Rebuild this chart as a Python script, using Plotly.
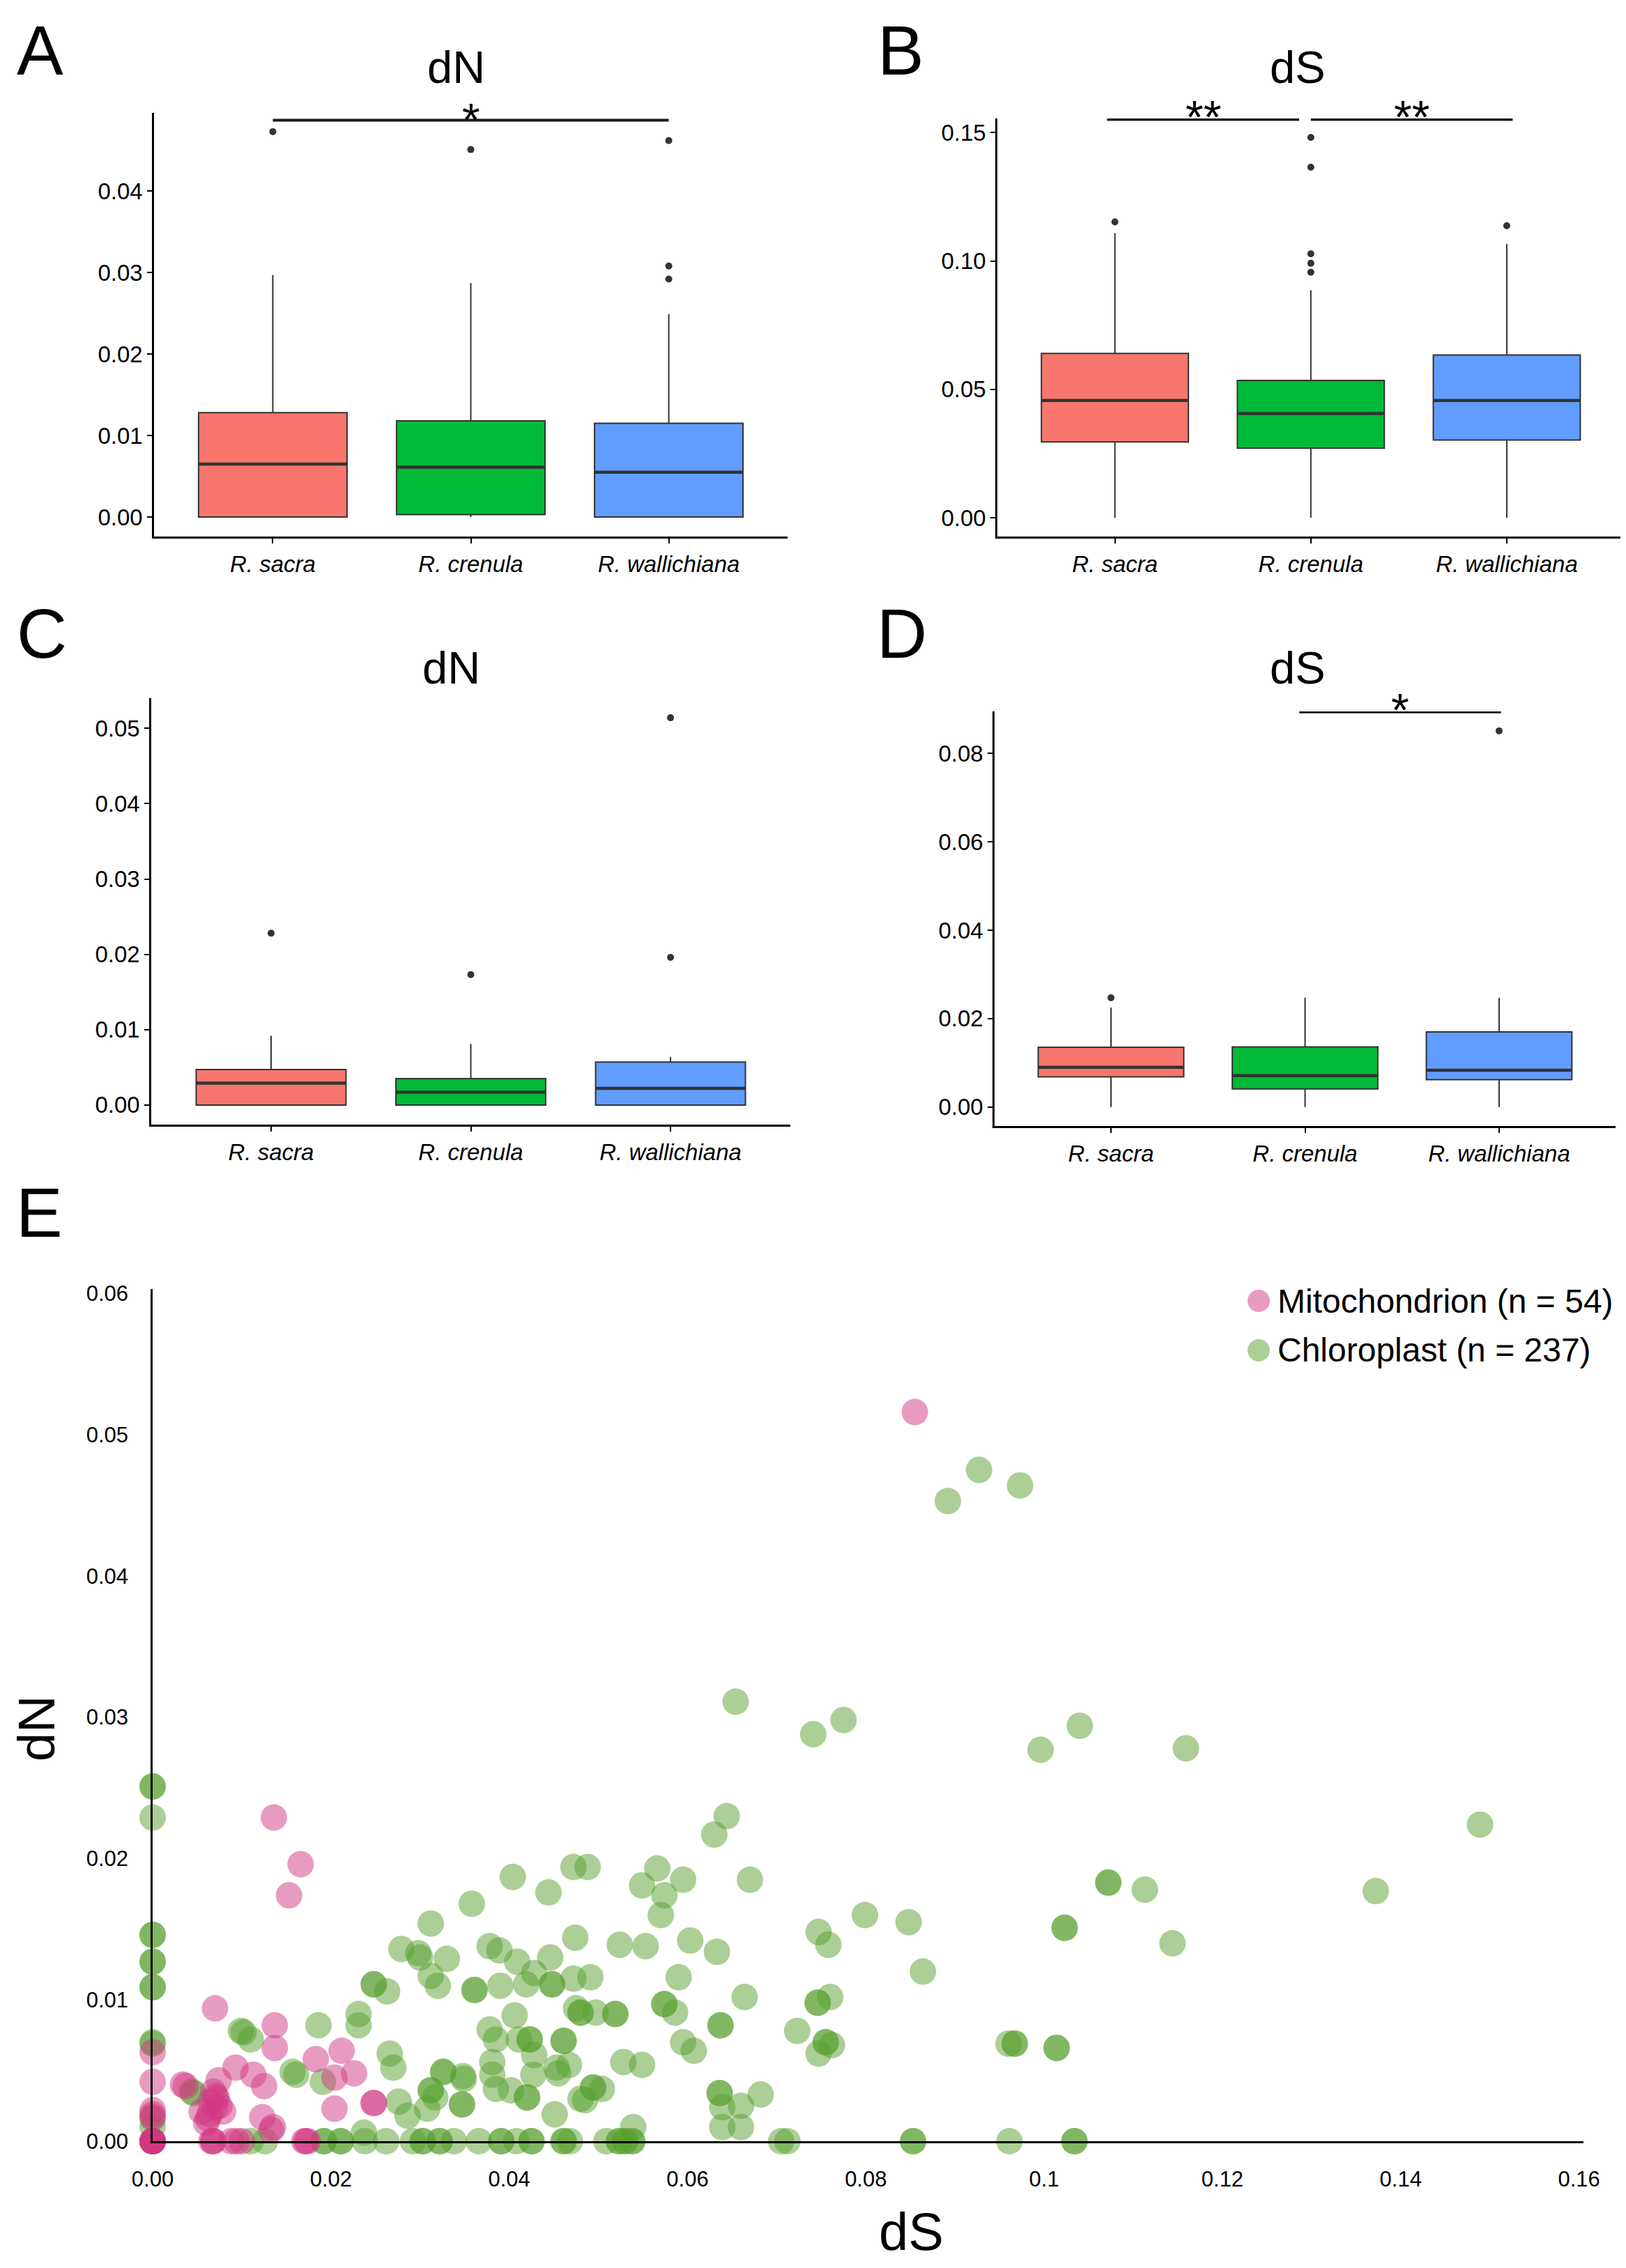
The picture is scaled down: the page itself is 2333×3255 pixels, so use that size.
import plotly.graph_objects as go

FONT = "Liberation Sans, Arial, Helvetica, sans-serif"
PAGE_W, PAGE_H = 2333, 3255
BODY = 8                      # default page margin around the figure div
W, H = PAGE_W - 2 * BODY, PAGE_H - 2 * BODY

species = ["R. sacra", "R. crenula", "R. wallichiana"]
box_fill = ["#F8766D", "#00BA38", "#619CFF"]

# ---------------- Panel A : dN ----------------
A_lower = [0.0, 0.0, 0.0]
A_q1 = [0.0, 0.0003, 0.0]
A_median = [0.0065, 0.0061, 0.0055]
A_q3 = [0.0128, 0.0118, 0.0115]
A_upper = [0.0297, 0.0287, 0.0249]
A_outliers = [[0.0473], [0.0451], [0.0462, 0.0308, 0.0292]]
A_yticks = [0.0, 0.01, 0.02, 0.03, 0.04]
A_yticktext = ["0.00", "0.01", "0.02", "0.03", "0.04"]
A_yrange = [-0.0024, 0.0496]
A_sig_x0 = [1.0]
A_sig_x1 = [3.0]
A_sig_y = [0.0487]
A_sig_text = ["*"]

# ---------------- Panel B : dS ----------------
B_lower = [0.0, 0.0, 0.0]
B_q1 = [0.0295, 0.0271, 0.0303]
B_median = [0.0457, 0.0406, 0.0457]
B_q3 = [0.0640, 0.0535, 0.0634]
B_upper = [0.1108, 0.0886, 0.1066]
B_outliers = [[0.1152], [0.1481, 0.1365, 0.1028, 0.0991, 0.0956], [0.1137]]
B_yticks = [0.0, 0.05, 0.10, 0.15]
B_yticktext = ["0.00", "0.05", "0.10", "0.15"]
B_yrange = [-0.0073, 0.1555]
B_sig_x0 = [0.96, 2.0]
B_sig_x1 = [1.94, 3.03]
B_sig_y = [0.1551, 0.1551]
B_sig_text = ["**", "**"]

# ---------------- Panel C : dN ----------------
C_lower = [0.0, 0.0, 0.0]
C_q1 = [0.0, 0.0, 0.0]
C_median = [0.0029, 0.0017, 0.0022]
C_q3 = [0.0047, 0.0035, 0.0057]
C_upper = [0.0092, 0.0081, 0.0064]
C_outliers = [[0.0228], [0.0173], [0.0514, 0.0196]]
C_yticks = [0.0, 0.01, 0.02, 0.03, 0.04, 0.05]
C_yticktext = ["0.00", "0.01", "0.02", "0.03", "0.04", "0.05"]
C_yrange = [-0.0026, 0.0540]
C_sig_x0, C_sig_x1, C_sig_y, C_sig_text = [], [], [], []

# ---------------- Panel D : dS ----------------
D_lower = [0.0, 0.0, 0.0]
D_q1 = [0.0068, 0.0041, 0.0062]
D_median = [0.0090, 0.0071, 0.0083]
D_q3 = [0.0135, 0.0136, 0.0170]
D_upper = [0.0225, 0.0247, 0.0247]
D_outliers = [[0.0247], [], [0.0851]]
D_yticks = [0.0, 0.02, 0.04, 0.06, 0.08]
D_yticktext = ["0.00", "0.02", "0.04", "0.06", "0.08"]
D_yrange = [-0.0043, 0.0895]
D_sig_x0 = [1.97]
D_sig_x1 = [3.01]
D_sig_y = [0.0894]
D_sig_text = ["*"]

# ---------------- Panel E : dN vs dS ----------------
mito_dS = [0.0855, 0.0136, 0.0166, 0.0153, 0.0070, 0.0137, 0.0137, 0.0093, 0.0113, 0.0125,
           0.0034, 0.0037, 0.0074, 0.0068, 0.0072, 0.0075, 0.0055, 0.0079, 0.0062, 0.0064,
           0.0123, 0.0135, 0.0133, 0.0183, 0.0212, 0.0226, 0.0204, 0.0204, 0.0248, 0.0248,
           0.0, 0.0, 0.0, 0.0, 0.0, 0.0, 0.0, 0.0, 0.0, 0.0,
           0.0068, 0.0068, 0.0066, 0.0088, 0.0094, 0.0100, 0.0172, 0.0174, 0.0170,
           0.0065, 0.0070, 0.0060, 0.0071, 0.0]
mito_dN = [0.0516, 0.0229, 0.0196, 0.0174, 0.0094, 0.0082, 0.0066, 0.0052, 0.0047, 0.0039,
           0.0040, 0.0039, 0.0043, 0.0035, 0.0030, 0.0025, 0.0021, 0.0021, 0.0016, 0.0019,
           0.0017, 0.0010, 0.0008, 0.0058, 0.0064, 0.0048, 0.0045, 0.0023, 0.0027, 0.0027,
           0.0063, 0.0042, 0.0022, 0.0019, 0.0, 0.0, 0.0, 0.0, 0.0, 0.0017,
           0.0, 0.0, 0.0, 0.0, 0.0, 0.0, 0.0, 0.0, 0.0,
           0.0028, 0.0024, 0.0013, 0.0032, 0.0]

chloro_dS = [
    0.0, 0.0, 0.0, 0.0, 0.0, 0.0, 0.0, 0.0, 0.0, 0.0, 0.0, 0.0, 0.0, 0.0, 0.0,
    0.0044, 0.0046, 0.0099, 0.0102, 0.0110, 0.0157, 0.0161, 0.0186, 0.0191, 0.0231,
    0.0231, 0.0248, 0.0248, 0.0263, 0.0266, 0.0270, 0.0237, 0.0276, 0.0286, 0.0308,
    0.0110, 0.0126, 0.0192, 0.0192, 0.0211, 0.0211, 0.0238, 0.0262, 0.0292, 0.0303,
    0.0303, 0.0322, 0.0322, 0.0338, 0.0366, 0.0391, 0.0391, 0.0408, 0.0425, 0.0425,
    0.0461, 0.0461, 0.0468, 0.0509, 0.0523, 0.0523, 0.0530, 0.0530, 0.0538, 0.0538,
    0.0705, 0.0712, 0.0853, 0.0853, 0.0961, 0.1034, 0.1034,
    0.0279, 0.0298, 0.0300, 0.0330, 0.0378, 0.0389, 0.0409, 0.0446, 0.0474, 0.0524, 0.0553,
    0.0312, 0.0358, 0.0404, 0.0444, 0.0472, 0.0488, 0.0549, 0.0566, 0.0574, 0.0570,
    0.0595, 0.0670, 0.0603, 0.0633, 0.0630, 0.0644, 0.0654, 0.0741, 0.0775,
    0.0312, 0.0320, 0.0361, 0.0361, 0.0390, 0.0419, 0.0428, 0.0448, 0.0448, 0.0472, 0.0491,
    0.0406, 0.0378, 0.0385, 0.0411, 0.0423, 0.0423, 0.0381, 0.0381, 0.0385, 0.0402,
    0.0420, 0.0420, 0.0427, 0.0428, 0.0461, 0.0461, 0.0453, 0.0467, 0.0455,
    0.0480, 0.0480, 0.0475, 0.0497, 0.0519, 0.0519, 0.0528, 0.0549, 0.0494, 0.0494,
    0.0485, 0.0504, 0.0480, 0.0451, 0.0539,
    0.0326, 0.0326, 0.0312, 0.0312, 0.0317, 0.0348, 0.0349, 0.0347, 0.0347,
    0.0590, 0.0574, 0.0574, 0.0586, 0.0664, 0.0637, 0.0637, 0.0595, 0.0607, 0.0636,
    0.0636, 0.0639, 0.0660, 0.0682, 0.0639, 0.0660,
    0.0723, 0.0746, 0.0746, 0.0760, 0.0755, 0.0755, 0.0762, 0.0747, 0.0747, 0.0758,
    0.0799, 0.0848, 0.0864,
    0.0892, 0.0927, 0.0973, 0.0996, 0.1040, 0.1159, 0.1489, 0.1372, 0.1072, 0.1072,
    0.1113, 0.1023, 0.1023, 0.1144, 0.0960, 0.0967, 0.0967, 0.1014, 0.1014]
chloro_dN = [
    0.0251, 0.0251, 0.0229, 0.0146, 0.0146, 0.0127, 0.0127, 0.0109, 0.0109, 0.0070,
    0.0069, 0.0016, 0.0010, 0.0, 0.0,
    0.0035, 0.0034, 0.0078, 0.0077, 0.0072, 0.0049, 0.0047, 0.0082, 0.0042, 0.0090,
    0.0082, 0.0111, 0.0111, 0.0106, 0.0062, 0.0052, 0.0006, 0.0028, 0.0018, 0.0023,
    0.0, 0.0, 0.0, 0.0, 0.0, 0.0, 0.0, 0.0, 0.0, 0.0,
    0.0, 0.0, 0.0, 0.0, 0.0, 0.0, 0.0, 0.0, 0.0, 0.0,
    0.0, 0.0, 0.0, 0.0, 0.0, 0.0, 0.0, 0.0, 0.0, 0.0,
    0.0, 0.0, 0.0, 0.0, 0.0, 0.0, 0.0,
    0.0136, 0.0133, 0.0130, 0.0129, 0.0138, 0.0135, 0.0127, 0.0130, 0.0144, 0.0139, 0.0138,
    0.0154, 0.0168, 0.0187, 0.0176, 0.0194, 0.0194, 0.0181, 0.0193, 0.0174, 0.0160,
    0.0185, 0.0185, 0.0142, 0.0134, 0.0217, 0.0230, 0.0311, 0.0288, 0.0298,
    0.0117, 0.0110, 0.0107, 0.0107, 0.0110, 0.0111, 0.0119, 0.0111, 0.0111, 0.0115, 0.0116,
    0.0089, 0.0079, 0.0072, 0.0072, 0.0072, 0.0072, 0.0056, 0.0047, 0.0037, 0.0036,
    0.0031, 0.0031, 0.0047, 0.0061, 0.0071, 0.0071, 0.0052, 0.0054, 0.0048,
    0.0091, 0.0091, 0.0094, 0.0091, 0.0090, 0.0090, 0.0056, 0.0054, 0.0038, 0.0038,
    0.0029, 0.0037, 0.0030, 0.0019, 0.0010,
    0.0049, 0.0049, 0.0036, 0.0036, 0.0031, 0.0046, 0.0044, 0.0026, 0.0026,
    0.0116, 0.0097, 0.0097, 0.0091, 0.0102, 0.0082, 0.0082, 0.0070, 0.0064, 0.0034,
    0.0034, 0.0024, 0.0025, 0.0033, 0.0010, 0.0010,
    0.0078, 0.0098, 0.0098, 0.0102, 0.0070, 0.0070, 0.0068, 0.0062, 0.0148, 0.0139,
    0.0160, 0.0155, 0.0120,
    0.0453, 0.0475, 0.0464, 0.0277, 0.0294, 0.0278, 0.0224, 0.0177, 0.0183, 0.0183,
    0.0178, 0.0151, 0.0151, 0.0140, 0.0069, 0.0069, 0.0069, 0.0066, 0.0066]

E_xticks = [0.0, 0.02, 0.04, 0.06, 0.08, 0.10, 0.12, 0.14, 0.16]
E_xticktext = ["0.00", "0.02", "0.04", "0.06", "0.08", "0.1", "0.12", "0.14", "0.16"]
E_yticks = [0.0, 0.01, 0.02, 0.03, 0.04, 0.05, 0.06]
E_yticktext = ["0.00", "0.01", "0.02", "0.03", "0.04", "0.05", "0.06"]
legend_labels = ["Mitochondrion (n = 54)", "Chloroplast (n = 237)"]

MITO_COLOR = "rgba(210,55,130,0.5)"
CHLORO_COLOR = "rgba(88,160,46,0.5)"


def px_x(p):
    """page pixel -> paper x"""
    return min(1.0, max(0.0, (p - BODY) / W))


def px_y(p):
    """page pixel (from top) -> paper y"""
    return min(1.0, max(0.0, 1 - (p - BODY) / H))


fig = go.Figure()
annotations = []
shapes = []
layout_axes = {}

box_panels = [
    dict(n=1, geom=((221, 1130), (162, 770)), xrange=[0.4, 3.6], lower=A_lower, q1=A_q1,
         med=A_median, q3=A_q3, upper=A_upper, out=A_outliers, yt=A_yticks, ytt=A_yticktext,
         yr=A_yrange, sx0=A_sig_x0, sx1=A_sig_x1, sy=A_sig_y, st=A_sig_text, sshift=1),
    dict(n=2, geom=((1431, 2325), (170, 770)), xrange=[0.4, 3.58], lower=B_lower, q1=B_q1,
         med=B_median, q3=B_q3, upper=B_upper, out=B_outliers, yt=B_yticks, ytt=B_yticktext,
         yr=B_yrange, sx0=B_sig_x0, sx1=B_sig_x1, sy=B_sig_y, st=B_sig_text, sshift=3),
    dict(n=3, geom=((217, 1134), (1002, 1614)), xrange=[0.4, 3.6], lower=C_lower, q1=C_q1,
         med=C_median, q3=C_q3, upper=C_upper, out=C_outliers, yt=C_yticks, ytt=C_yticktext,
         yr=C_yrange, sx0=C_sig_x0, sx1=C_sig_x1, sy=C_sig_y, st=C_sig_text, sshift=1),
    dict(n=4, geom=((1427, 2318), (1021, 1616)), xrange=[0.4, 3.6], lower=D_lower, q1=D_q1,
         med=D_median, q3=D_q3, upper=D_upper, out=D_outliers, yt=D_yticks, ytt=D_yticktext,
         yr=D_yrange, sx0=D_sig_x0, sx1=D_sig_x1, sy=D_sig_y, st=D_sig_text, sshift=3),
]

BOX_W = 0.75
for p in box_panels:
    n = p["n"]
    xr = "x" if n == 1 else f"x{n}"
    yr_ = "y" if n == 1 else f"y{n}"
    xk = "xaxis" if n == 1 else f"xaxis{n}"
    yk = "yaxis" if n == 1 else f"yaxis{n}"
    (gx0, gx1), (gy0, gy1) = p["geom"]
    for i in range(3):
        pos = i + 1
        fig.add_trace(go.Box(
            x=[pos], q1=[p["q1"][i]], median=[p["med"][i]], q3=[p["q3"][i]],
            lowerfence=[p["lower"][i]], upperfence=[p["upper"][i]],
            width=BOX_W, whiskerwidth=0, boxpoints=False,
            fillcolor=box_fill[i], line=dict(color="#333333", width=2),
            xaxis=xr, yaxis=yr_, showlegend=False, hoverinfo="skip"))
        fig.add_trace(go.Scatter(
            x=[pos - BOX_W / 2, pos + BOX_W / 2], y=[p["med"][i]] * 2, mode="lines",
            line=dict(color="#333333", width=4.5), xaxis=xr, yaxis=yr_,
            showlegend=False, hoverinfo="skip"))
        if p["out"][i]:
            fig.add_trace(go.Scatter(
                x=[pos] * len(p["out"][i]), y=p["out"][i], mode="markers",
                marker=dict(color="#333333", size=10), xaxis=xr, yaxis=yr_,
                showlegend=False, hoverinfo="skip", cliponaxis=False))
    for x0, x1, yv, t in zip(p["sx0"], p["sx1"], p["sy"], p["st"]):
        fig.add_trace(go.Scatter(
            x=[x0, x1], y=[yv, yv], mode="lines", line=dict(color="#1a1a1a", width=4),
            xaxis=xr, yaxis=yr_, showlegend=False, hoverinfo="skip", cliponaxis=False))
        annotations.append(dict(
            x=(x0 + x1) / 2, y=yv, xref=xr, yref=yr_, text=t, showarrow=False,
            yanchor="middle", xanchor="center", yshift=p["sshift"],
            font=dict(family=FONT, size=66, color="black")))
    layout_axes[xk] = dict(
        domain=[px_x(gx0), px_x(gx1)], range=p["xrange"], anchor=yr_, automargin=False,
        tickvals=[1, 2, 3], ticktext=[f"<i>{s}</i>" for s in species],
        showline=True, linecolor="black", linewidth=2.5, ticks="outside", ticklen=7,
        tickwidth=2, tickcolor="black", showgrid=False, zeroline=False,
        ticklabelstandoff=2,
        tickfont=dict(family=FONT, size=33, color="black"))
    layout_axes[yk] = dict(
        domain=[px_y(gy1), px_y(gy0)], range=p["yr"], anchor=xr, automargin=False,
        tickvals=p["yt"], ticktext=p["ytt"],
        showline=True, linecolor="black", linewidth=2.5, ticks="outside", ticklen=7,
        tickwidth=2, tickcolor="black", showgrid=False, zeroline=False,
        ticklabelstandoff=0,
        tickfont=dict(family=FONT, size=33, color="black"))

# ---------------- Panel E ----------------
fig.add_trace(go.Scatter(
    x=chloro_dS, y=chloro_dN, mode="markers", xaxis="x5", yaxis="y5",
    marker=dict(size=38, color=CHLORO_COLOR, line=dict(width=0)),
    cliponaxis=False, showlegend=False, hoverinfo="skip"))
fig.add_trace(go.Scatter(
    x=mito_dS, y=mito_dN, mode="markers", xaxis="x5", yaxis="y5",
    marker=dict(size=38, color=MITO_COLOR, line=dict(width=0)),
    cliponaxis=False, showlegend=False, hoverinfo="skip"))

layout_axes["xaxis5"] = dict(
    domain=[px_x(219), px_x(2272)], range=[0, 0.1605], anchor="y5", automargin=False,
    tickvals=E_xticks, ticktext=E_xticktext, showline=True, linecolor="black",
    linewidth=2.5, ticks="", showgrid=False, zeroline=False, ticklabelstandoff=25,
    tickfont=dict(family=FONT, size=31, color="black"))
layout_axes["yaxis5"] = dict(
    domain=[px_y(3073), px_y(1850)], range=[0, 0.0603], anchor="x5", automargin=False,
    tickvals=E_yticks, ticktext=E_yticktext, showline=True, linecolor="black",
    linewidth=2.5, ticks="", showgrid=False, zeroline=False, ticklabelstandoff=26,
    tickfont=dict(family=FONT, size=31, color="black"))

# legend for E
leg_colors = [MITO_COLOR, CHLORO_COLOR]
leg_y = [1867, 1938]
for lab, col, ly in zip(legend_labels, leg_colors, leg_y):
    r = 16
    shapes.append(dict(type="circle", xref="paper", yref="paper",
                       x0=px_x(1806 - r), x1=px_x(1806 + r), y0=px_y(ly + r), y1=px_y(ly - r),
                       fillcolor=col, line=dict(width=0)))
    annotations.append(dict(x=px_x(1831), y=px_y(ly), xref="paper", yref="paper", text=lab,
                            showarrow=False, xanchor="left", yanchor="middle",
                            font=dict(family=FONT, size=48, color="black")))

# axis titles for E
annotations.append(dict(x=px_x(1307), y=0, xref="paper", yref="paper", text="dS",
                        showarrow=False, xanchor="center", yanchor="bottom",
                        font=dict(family=FONT, size=76, color="black")))
annotations.append(dict(x=px_x(52), y=px_y(2481), xref="paper", yref="paper", text="dN",
                        showarrow=False, xanchor="center", yanchor="middle", textangle=-90,
                        font=dict(family=FONT, size=74, color="black")))

# panel titles
for txt, cx, cy in [("dN", 655, 97), ("dS", 1862, 97), ("dN", 647, 959), ("dS", 1862, 959)]:
    annotations.append(dict(x=px_x(cx), y=px_y(cy), xref="paper", yref="paper", text=txt,
                            showarrow=False, xanchor="center", yanchor="middle",
                            font=dict(family=FONT, size=65, color="black")))

# panel letters
for txt, cx, cy in [("A", 57, 72), ("B", 1292, 72),
                    ("C", 60, 909), ("D", 1294, 909), ("E", 56, 1740)]:
    annotations.append(dict(x=px_x(cx), y=px_y(cy), xref="paper", yref="paper", text=txt,
                            showarrow=False, xanchor="center", yanchor="middle",
                            font=dict(family=FONT, size=100, color="black")))

fig.update_layout(
    width=W, height=H, margin=dict(l=0, r=0, t=0, b=0, autoexpand=False),
    paper_bgcolor="white", plot_bgcolor="white", showlegend=False,
    boxmode="overlay", annotations=annotations, shapes=shapes,
    font=dict(family=FONT, color="black"),
    **layout_axes)

fig.write_html("out.html")
